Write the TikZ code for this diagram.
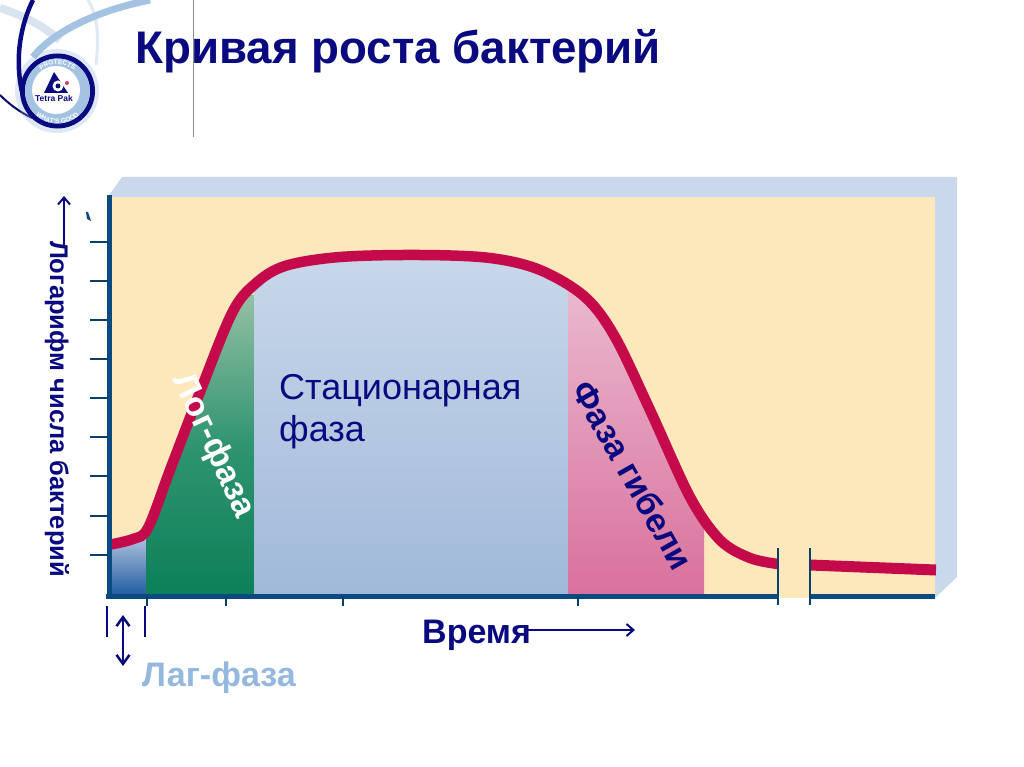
\documentclass[tikz,border=0pt]{standalone}
\usepackage{fontspec}
\setmainfont{Liberation Sans}
\usetikzlibrary{arrows.meta,decorations.text}
\definecolor{navy}{HTML}{0A0A80}
\definecolor{cream}{HTML}{FDE8BC}
\definecolor{frameblue}{HTML}{C9D8EA}
\definecolor{axisblue}{HTML}{0B4A80}
\definecolor{curvered}{HTML}{C40A4A}
\definecolor{lagblue}{HTML}{94B8DE}
\definecolor{greentop}{HTML}{94C0A4}
\definecolor{greenmid}{HTML}{2F9470}
\definecolor{greenbot}{HTML}{0C8058}
\definecolor{statbot}{HTML}{A0B9DA}
\definecolor{pinktop}{HTML}{EAB8CF}
\definecolor{pinkbot}{HTML}{D9709B}
\definecolor{lagtopc}{HTML}{A8BCDC}
\definecolor{lagbotc}{HTML}{1F5AA0}
\newcommand{\growthcurve}{plot[smooth,tension=.55] coordinates {(108,545) (133,539) (148,528) (170,470) (200,392) (232,313) (255,284) (285,266) (340,257) (420,255) (490,258) (540,270) (585,297) (615,337) (650,410) (690,497) (720,540) (750,558) (778,564)}}
\tikzset{
 x=1pt,y=-1pt,
 titletext/.style={font=\bfseries\fontsize{45.7}{46}\selectfont,text=navy,inner sep=0pt},
 axistext/.style={font=\bfseries\fontsize{25.5}{26}\selectfont,text=navy,inner sep=0pt},
 phasetext/.style={font=\bfseries\fontsize{34}{34}\selectfont,inner sep=0pt},
 stattext/.style={font=\fontsize{36}{42}\selectfont,text=navy,inner sep=0pt,align=left},
 thinarrow/.style={draw=navy,line width=2pt,-{Straight Barb[length=7pt,width=12pt,line width=2pt]}},
 doublearrow/.style={draw=navy,line width=2.5pt,{Straight Barb[length=9pt,width=13pt,line width=2.5pt]}-{Straight Barb[length=9pt,width=13pt,line width=2.5pt]}},
 tickmark/.style={draw=axisblue!85!black,line width=1.5pt},
 lagmark/.style={draw=navy,line width=2pt},
}
\begin{document}
\begin{tikzpicture}
\useasboundingbox (0,0) rectangle (1024,767);
\fill[white] (0,0) rectangle (1024,767);
% logo
\begin{scope}
\clip (0,0) rectangle (194,140);
\draw[frameblue!60,line width=3pt] (88,0) .. controls (100,20) and (98,45) .. (96,65);
\draw[frameblue!70,line width=8pt] (0,8) .. controls (22,15) and (42,25) .. (60,40);
\draw[lagblue!85,line width=7pt] (150,0) .. controls (100,10) and (55,30) .. (33,57);
\draw[navy!85!black,line width=2pt] (0,95) .. controls (10,105) and (20,112) .. (32,118);
\fill[lagblue,opacity=.3] (57,91) circle (42);
\draw[navy,line width=4.5pt] (33,0) .. controls (22,22) and (14,55) .. (22,92);
\draw[navy,line width=5pt] (57.5,91) circle (35);
\fill[lagblue!85!white] (57.5,91) circle (32.5);
\fill[white] (56,90) circle (24);
\path[decorate,decoration={text along path,text align=center,text={|\fontsize{6.5}{7}\bfseries\color{white}|PROTECTS}}] (31,91) arc[start angle=180,end angle=360,radius=26.5];
\path[decorate,decoration={text along path,text align=center,text={|\fontsize{6.5}{7}\bfseries\color{white}|WHAT'S GOOD}}] (25,91) arc[start angle=180,end angle=0,radius=32.5];
\fill[navy] (54,72) -- (44,93) -- (68,93) -- cycle;
\fill[white] (58,86) circle (5.5);
\fill[navy] (58,86) circle (2.5);
\fill[curvered!80] (67,83) circle (2);
\node[font=\bfseries\fontsize{8.5}{8.5}\selectfont,text=navy,inner sep=0pt] (logotext) at (54,98.5) {Tetra Pak};
\end{scope}
\draw[black!45,line width=1pt] (193,0) -- (193,137);
% title
\node[titletext,anchor=base west] (title) at (135,64) {Кривая роста бактерий};
% frame
\fill[frameblue] (108,197) -- (122,177) -- (957,177) -- (957,577) -- (935,598) -- (935,197) -- cycle;
\fill[cream] (108,197) rectangle (935,596);
% area under curve
\begin{scope}
\clip \growthcurve -- (778,596) -- (108,596) -- cycle;
\shade[top color=lagtopc,bottom color=lagbotc] (108,540) rectangle (146,596);
\shade[top color=greentop,bottom color=greenbot,middle color=greenmid] (146,295) rectangle (254,596);
\shade[top color=frameblue,bottom color=statbot] (254,250) rectangle (568,596);
\shade[top color=pinktop,bottom color=pinkbot] (568,290) rectangle (704,596);
\end{scope}
% curve
\draw[curvered,line width=10.5pt,line join=round] \growthcurve;
\draw[curvered,line width=11pt] (810,565) -- (936,570);
% axes
\fill[white] (779,597) rectangle (810,603);
\fill[cream] (780,540) rectangle (810,598);
\draw[axisblue,line width=5pt] (109,195) -- (109,599);
\draw[axisblue,line width=5pt] (106,596) -- (779,596);
\draw[axisblue,line width=5pt] (810,596) -- (935,596);
\foreach \yy in {242,281,320,359,398,437,476,516,555} \draw[tickmark] (90,\yy) -- (108,\yy);
\foreach \xx in {147,226,343,578} \draw[tickmark] (\xx,596) -- (\xx,606);
\draw[tickmark] (778,548) -- (778,605);
\draw[tickmark] (810,548) -- (810,605);
\fill[axisblue] (86,212) -- (88,212) -- (91,221) -- (87,219) -- cycle;
% labels
\node[axistext,rotate=-90,anchor=center] (ylabel) at (57,409) {Логарифм числа бактерий};
\coordinate (yarrowstart) at (64,246);
\coordinate (yarrowend) at (64,196);
\draw[thinarrow] (yarrowstart) -- (yarrowend);
\node[phasetext,text=white,rotate=-65] (logphase) at (213,446) {Лог-фаза};
\node[stattext,anchor=north west] (statphase) at (279,374) {Стационарная\\фаза};
\node[phasetext,text=navy,rotate=-60.5] (deathphase) at (633,475) {Фаза гибели};
\node[phasetext,text=navy,anchor=base west] (timelabel) at (422,643) {Время};
\coordinate (tarrowend) at (635,630);
\draw[thinarrow] (timelabel.east |- tarrowend) ++(-5,0) coordinate (tarrowstart) -- (tarrowend);
\coordinate (lagleftt) at (107,606); \coordinate (laglefttb) at (107,637);
\coordinate (lagrightt) at (145,606); \coordinate (lagrighttb) at (145,637);
\draw[lagmark] (lagleftt) -- (laglefttb);
\draw[lagmark] (lagrightt) -- (lagrighttb);
\coordinate (lagtop) at (123,615); \coordinate (lagbot) at (123,666);
\draw[doublearrow] (lagtop) -- (lagbot);
\node[phasetext,text=lagblue,anchor=base west] (lagphase) at (142,686) {Лаг-фаза};
\end{tikzpicture}
\end{document}
